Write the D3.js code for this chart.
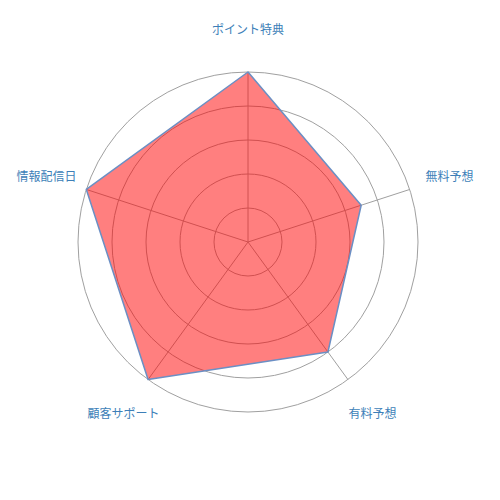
<!DOCTYPE html>
<html lang="ja">
<head>
  <meta charset="UTF-8">
  <title>Radar</title>
  <script src="https://d3js.org/d3.v7.min.js"></script>
  <style>
    body { margin: 0; background: #fff; }
    #chart { width: 500px; height: 500px; }
  </style>
</head>
<body>
  <div id="chart"></div>
  <script>
    const categories = ['ポイント特典', '無料予想', '有料予想', '顧客サポート', '情報配信日'];
    const values = [5, 3.5, 4, 5, 5];
    const ringLevels = [1, 2, 3, 4, 5];
    const maxValue = 5;

    const width = 500, height = 500;
    const cx = 248, cy = 242;
    const radius = 170;
    const labelRadius = 212;

    const svg = d3.select('#chart').append('svg')
      .attr('width', width)
      .attr('height', height);

    const g = svg.append('g').attr('transform', `translate(${cx},${cy})`);

    const r = d3.scaleLinear().domain([0, maxValue]).range([0, radius]);
    const angle = d3.scalePoint().domain(categories).range([0, 2 * Math.PI * (categories.length - 1) / categories.length]);

    const pos = (cat, v) => {
      const a = angle(cat);
      return [Math.sin(a) * r(v), -Math.cos(a) * r(v)];
    };

    // grid rings
    g.selectAll('circle.ring')
      .data(ringLevels)
      .join('circle')
      .attr('class', 'ring')
      .attr('r', d => r(d))
      .attr('fill', 'none')
      .attr('stroke', '#a0a0a0')
      .attr('stroke-width', 1);

    // spokes
    g.selectAll('line.spoke')
      .data(categories)
      .join('line')
      .attr('class', 'spoke')
      .attr('x1', 0).attr('y1', 0)
      .attr('x2', d => pos(d, maxValue)[0])
      .attr('y2', d => pos(d, maxValue)[1])
      .attr('stroke', '#a0a0a0')
      .attr('stroke-width', 1);

    // data polygon
    const line = d3.lineRadial()
      .angle((d, i) => angle(categories[i]))
      .radius(d => r(d))
      .curve(d3.curveLinearClosed);

    g.append('path')
      .datum(values)
      .attr('d', line)
      .attr('fill', 'rgba(255,0,0,0.5)')
      .attr('stroke', '#6b8fc4')
      .attr('stroke-width', 1.5)
      .attr('stroke-linejoin', 'round');

    // labels
    g.selectAll('text.label')
      .data(categories)
      .join('text')
      .attr('class', 'label')
      .attr('x', d => Math.sin(angle(d)) * labelRadius)
      .attr('y', d => -Math.cos(angle(d)) * labelRadius)
      .attr('dy', '0.35em')
      .attr('text-anchor', 'middle')
      .attr('fill', '#3d7fb8')
      .style('font-family', '"Noto Sans CJK JP", sans-serif')
      .style('font-size', '12px')
      .text(d => d);
  </script>
</body>
</html>
